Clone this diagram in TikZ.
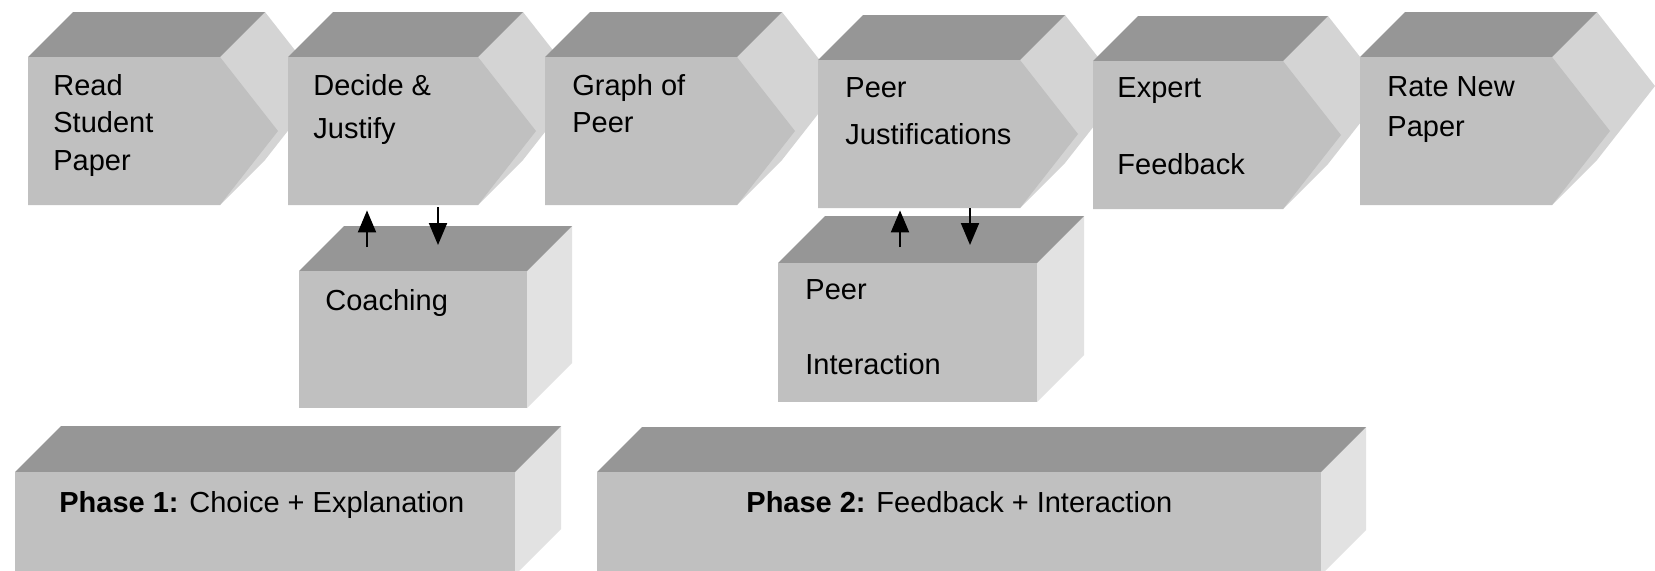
\documentclass[tikz,border=0pt]{standalone}
\usepackage{fontspec}
\setmainfont{Liberation Sans}
\usetikzlibrary{arrows.meta}
\definecolor{facegray}{RGB}{192,192,192}
\definecolor{topgray}{RGB}{150,150,150}
\definecolor{sidegray}{RGB}{212,212,212}
\definecolor{boxside}{RGB}{226,226,226}

\begin{document}
\begin{tikzpicture}[x=0.5pt, y=-0.5pt,
    txt/.style={anchor=north west, inner sep=0pt, align=left, font=\fontsize{14.5}{18.75}\selectfont},
    flow/.style={line width=1pt, -{Triangle[length=11pt, width=9pt]}}]
  \clip (0,0) rectangle (1655,570);
  \fill[white] (0,0) rectangle (1655,570);
  % steps along the top
  \foreach \lx/\ty/\rx/\nm in {28/57/220/read, 288/57/478/decide, 545/57/737/graph, 818/60/1020/peerjust, 1093/61/1283/expert, 1360/57/1552/rate}{
    \fill[sidegray] (\rx,\ty) -- ++(45,-45) -- (\rx+103,\ty+29) -- (\rx+45,\ty+103) -- (\rx,\ty+148) -- cycle;
    \fill[topgray] (\lx,\ty) -- (\lx+45,\ty-45) -- (\rx+45,\ty-45) -- (\rx,\ty) -- cycle;
    \fill[facegray] (\lx,\ty) -- (\rx,\ty) -- (\rx+58,\ty+74) -- (\rx,\ty+148) -- (\lx,\ty+148) -- cycle;
    \node[inner sep=0pt, minimum width={(\rx-\lx)*0.5pt}, minimum height=74pt] (\nm) at ({(\lx+\rx)/2},\ty+74) {};
  }
  % blocks below
  \foreach \lx/\ty/\rx/\by/\d/\nm in {299/271/527/408/45/coach, 778/263/1037/402/47/peerint, 15/472/515/575/46/phaseone, 597/472/1321/575/45/phasetwo}{
    \fill[boxside] (\rx,\ty) -- (\rx+\d,\ty-\d) -- (\rx+\d,\by-\d) -- (\rx,\by) -- cycle;
    \fill[topgray] (\lx,\ty) -- (\lx+\d,\ty-\d) -- (\rx+\d,\ty-\d) -- (\rx,\ty) -- cycle;
    \fill[facegray] (\lx,\ty) rectangle (\rx,\by);
    \node[inner sep=0pt, minimum width={(\rx-\lx)*0.5pt}, minimum height={(\by-\ty)*0.5pt}] (\nm) at ({(\lx+\rx)/2},{(\ty+\by)/2}) {};
  }

  \node[txt] (readtxt) at (53,74) {Read\\Student\\Paper};
  \node[txt] (decidetxt) at (313,74) {Decide \&\\[2.75pt]Justify};
  \node[txt] (graphtxt) at (572,74) {Graph of\\Peer};
  \node[txt] (peerjusttxt) at (845,77) {Peer\\[4.75pt]Justifications};
  \node[txt] (experttxt) at (1117,77) {Expert\\[19.75pt]Feedback};
  \node[txt] (ratetxt) at (1387,76) {Rate New\\[1.25pt]Paper};
  \node[txt] (coachtxt) at (325,289) {Coaching};
  \node[txt] (peerinttxt) at (805,279) {Peer\\[18.75pt]Interaction};
  \node[txt] (phaseonetxt) at (59,491) {\textbf{Phase 1:} Choice + Explanation};
  \node[txt] (phasetwotxt) at (746,491) {\textbf{Phase 2:} Feedback + Interaction};

  % two-way links
  \coordinate (coachup) at (367,247);
  \coordinate (coachdown) at (438,245);
  \coordinate (peerup) at (900,247);
  \coordinate (peerdown) at (970,245);
  \draw[flow, shorten >=2.5pt] (coachup) -- (coachup |- decide.south);
  \draw[flow, shorten <=1pt] (decide.south -| coachdown) -- (coachdown);
  \draw[flow, shorten >=1pt] (peerup) -- (peerup |- peerjust.south);
  \draw[flow] (peerjust.south -| peerdown) -- (peerdown);
\end{tikzpicture}
\end{document}
